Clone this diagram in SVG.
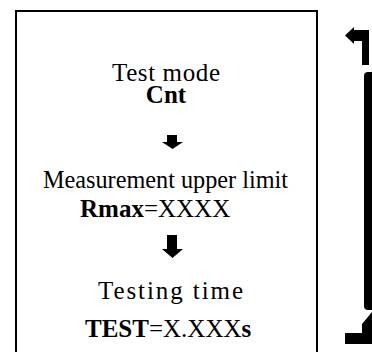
<svg xmlns="http://www.w3.org/2000/svg" width="372" height="352" viewBox="0 0 372 352" font-family="Liberation Serif, DejaVu Serif, serif">
<style>
  text { font-size: 25px; fill: #000; }
  .b { font-weight: bold; }
  .frame { fill: none; stroke: #000; stroke-width: 2; }
  .blk { fill: #000; }
</style>
<rect width="372" height="352" fill="#fff"/>
<g id="frame">
  <rect class="frame" x="16" y="11" width="301" height="360"/>
</g>
<g id="node-test-mode">
  <text x="166" y="81" text-anchor="middle" textLength="108" lengthAdjust="spacing" font-family="Liberation Serif">Test mode</text>
  <text class="b" x="166" y="103" text-anchor="middle" font-family="Liberation Serif">Cnt</text>
</g>
<g id="node-upper-limit">
  <text x="165.5" y="188" text-anchor="middle" textLength="245" lengthAdjust="spacingAndGlyphs" font-family="Liberation Serif">Measurement upper limit</text>
  <text x="80" y="217" font-family="Liberation Serif"><tspan class="b">Rmax</tspan>=XXXX</text>
</g>
<g id="node-testing-time">
  <text x="170.5" y="299" text-anchor="middle" textLength="145" lengthAdjust="spacing" font-family="Liberation Serif">Testing time</text>
  <text x="85" y="337" font-family="Liberation Serif"><tspan class="b">TEST</tspan>=X.XXX<tspan class="b">s</tspan></text>
</g>
<g id="connectors">
  <polygon class="blk" points="167,135 177,135 177,142 183,142 172.5,149 162,142 167,142"/>
  <polygon class="blk" points="167,235 177,235 177,249 183,249 172.5,258 162,249 167,249"/>
  <polygon class="blk" points="345,35.5 354,27 354,30 369,30 369,65 362,65 362,41 354,41 354,44"/>
  <rect class="blk" x="364" y="72" width="12" height="238" rx="4"/>
  <polygon class="blk" points="372,312 362,324 362,333 345,333 345,344 372,344"/>
</g>
</svg>
